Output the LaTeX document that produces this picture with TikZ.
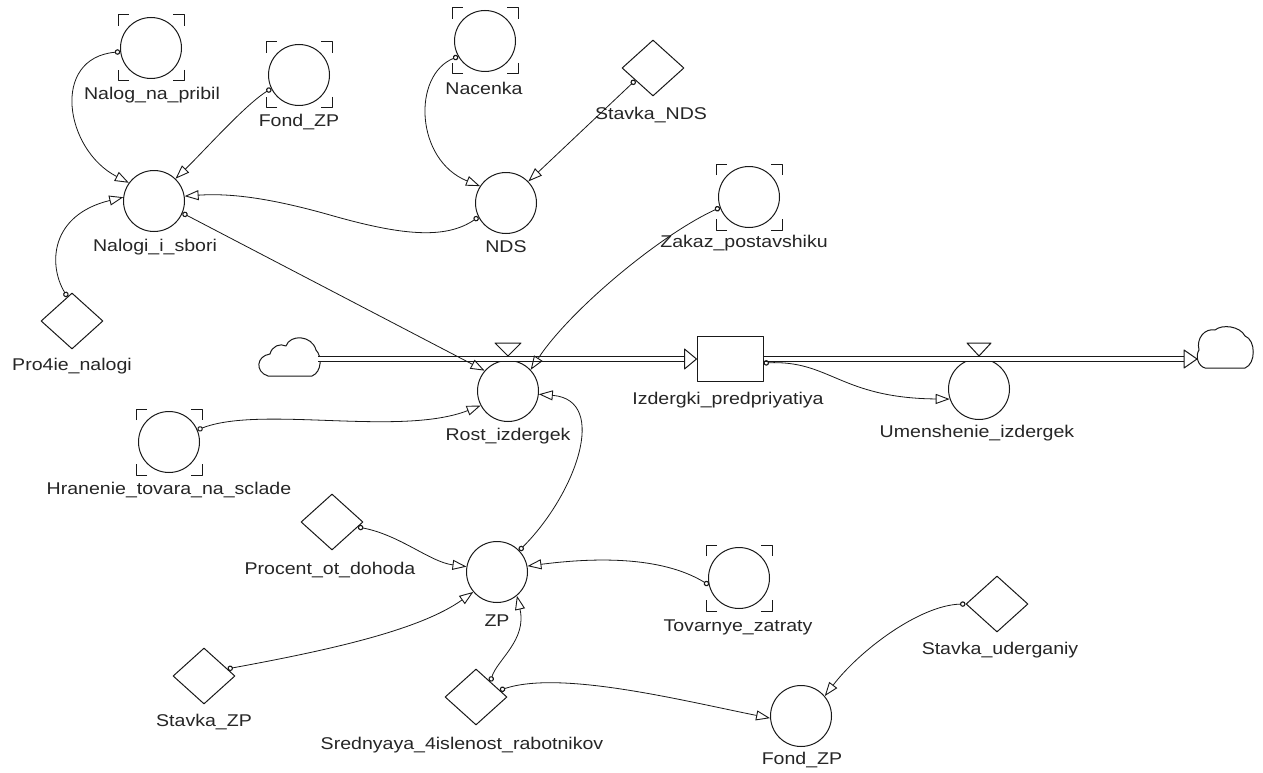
\documentclass[tikz,border=0pt]{standalone}
\usepackage{fontspec}
\setmainfont{Liberation Sans}[FakeStretch=1.15]
\usetikzlibrary{arrows.meta,shapes.geometric,calc}
\tikzset{
  aux/.style={circle,draw=black!90,line width=1pt,minimum size=61pt,inner sep=0pt},
  cnst/.style={diamond,draw=black!90,line width=1pt,minimum width=62pt,minimum height=56pt,inner sep=0pt},
  stockbox/.style={rectangle,draw=black!90,line width=1pt,minimum width=66pt,minimum height=45pt,inner sep=0pt},
  lbl/.style={font=\fontsize{17}{19}\selectfont,text=black!85,inner sep=0pt},
  conn/.style={draw=black!90,line width=0.8pt,{Circle[open,length=5.5pt,width=5.5pt,line width=1.1pt]}-{Triangle[open,length=14pt,width=10pt,line width=0.9pt]}},
  pipe/.style={draw=black!90,double,double distance=3.5pt,line width=0.9pt},
  tri/.style={draw=black!90,line width=1pt,fill=white},
  brk/.pic={\draw[line width=1pt,black!90] (-33,-22)--(-33,-33)--(-22,-33) (22,-33)--(33,-33)--(33,-22) (33,22)--(33,33)--(22,33) (-22,33)--(-33,33)--(-33,22);}
}
\begin{document}
\begin{tikzpicture}[x=1pt,y=-1pt,line join=round]
\useasboundingbox (0,0) rectangle (1263,773);
\fill[white] (0,0) rectangle (1263,773);

% nodes
\node[aux] (nnp) at (151,48) {};
\pic at (151,48) {brk};
\node[lbl] (nnpl) at (152,95) {Nalog\_na\_pribil};
\node[aux] (fzp1) at (299,75) {};
\pic at (299,75) {brk};
\node[lbl] (fzp1l) at (299,122) {Fond\_ZP};
\node[aux] (nis) at (154,201) {};
\node[lbl] (nisl) at (155,247) {Nalogi\_i\_sbori};
\node[aux] (nac) at (485,41) {};
\pic at (485,41) {brk};
\node[lbl] (nacl) at (484,88) {Nacenka};
\node[cnst] (snds) at (653,68) {};
\node[lbl] (sndsl) at (651,115) {Stavka\_NDS};
\node[aux] (nds) at (506,203) {};
\node[lbl] (ndsl) at (506,247) {NDS};
\node[aux] (zak) at (749,197) {};
\pic at (749,197) {brk};
\node[lbl] (zakl) at (744,243) {Zakaz\_postavshiku};
\node[cnst] (pro) at (72,321) {};
\node[lbl] (prol) at (72,366) {Pro4ie\_nalogi};
\node[stockbox] (stock) at (730,359) {};
\node[lbl] (stockl) at (728,400) {Izdergki\_predpriyatiya};
\node[aux] (rost) at (508,391) {};
\node[lbl] (rostl) at (508,436) {Rost\_izdergek};
\node[aux] (umen) at (979,389) {};
\node[lbl] (umenl) at (977,433) {Umenshenie\_izdergek};
\node[aux] (hran) at (169,442) {};
\pic at (169,442) {brk};
\node[lbl] (hranl) at (169,490) {Hranenie\_tovara\_na\_sclade};
\node[cnst] (proc) at (332,522) {};
\node[lbl] (procl) at (330,570) {Procent\_ot\_dohoda};
\node[aux] (zp) at (497,572) {};
\node[lbl] (zpl) at (497,621) {ZP};
\node[cnst] (szp) at (204,676) {};
\node[lbl] (szpl) at (204,722) {Stavka\_ZP};
\node[cnst] (sred) at (476,697) {};
\node[lbl] (sredl) at (462,745) {Srednyaya\_4islenost\_rabotnikov};
\node[aux] (tov) at (739,578) {};
\pic at (739,578) {brk};
\node[lbl] (tovl) at (738,627) {Tovarnye\_zatraty};
\node[cnst] (sud) at (997,604) {};
\node[lbl] (sudl) at (1000,650) {Stavka\_uderganiy};
\node[aux] (fzp2) at (801,716) {};
\node[lbl] (fzp2l) at (802,760) {Fond\_ZP};

% clouds
\coordinate (cl) at (318,359);
\coordinate (cr) at (1197,359);
\draw[line width=1pt,black!90] (268,376) .. controls (255,372) and (256,356) .. (270,354) .. controls (272,346) and (280,343) .. (286,346) .. controls (290,334) and (312,335) .. (316,350) .. controls (322,356) and (322,372) .. (312,376) -- cycle;
\draw[line width=1pt,black!90] (1205,368) -- (1245,368) .. controls (1256,364) and (1256,340) .. (1245,336) .. controls (1240,326) and (1222,324) .. (1215,330) .. controls (1205,328) and (1196,338) .. (1199,350) .. controls (1195,356) and (1198,366) .. (1205,368);

% pipes
\draw[pipe] (cl) -- ([xshift=-12pt]stock.west);
\draw[tri] ([xshift=-12pt,yshift=10pt]stock.west) -- (stock.west) -- ([xshift=-12pt,yshift=-10pt]stock.west) -- cycle;
\draw[pipe] (stock.east) -- ([xshift=-13pt]cr);
\draw[tri] ([xshift=-13pt,yshift=9pt]cr) -- (cr) -- ([xshift=-13pt,yshift=-9pt]cr) -- cycle;

% valves
\coordinate (vr) at (rost.north |- cl);
\coordinate (vu) at (umen.north |- cl);
\draw[tri] ([xshift=-13pt,yshift=16pt]vr) -- ([xshift=13pt,yshift=16pt]vr) -- ([yshift=3pt]vr) -- cycle;
\draw[tri] ([xshift=-12pt,yshift=16pt]vu) -- ([xshift=12pt,yshift=16pt]vu) -- ([yshift=3pt]vu) -- cycle;

% connectors
\draw[conn] (nnp.187) .. controls (50,58) and (65,150) .. (nis.144);
\draw[conn] (fzp1.206) .. controls (245,105) and (205,150) .. (nis.46);
\draw[conn] (nds.207) .. controls (445,240) and (400,235) .. (330,215) .. controls (270,198) and (230,193) .. (nis.9);
\draw[conn] (nis.337) -- (rost.139);
\draw[conn] (pro.101) .. controls (48,265) and (50,215) .. (nis.173);
\draw[conn] (nac.210) .. controls (412,75) and (415,160) .. (nds.147);
\draw[conn] (snds.215) -- (nds.44);
\draw[conn] (zak.200) .. controls (660,235) and (570,310) .. (rost.43);
\draw[conn] (hran.23) .. controls (260,405) and (400,437) .. (rost.208);
\draw[conn] (zp.44) .. controls (575,495) and (610,400) .. (rost.354);
\draw[conn] ([yshift=-4pt]stock.east) .. controls (830,360) and (840,398) .. (umen.199);
\draw[conn] (proc.-11) .. controls (400,535) and (430,562) .. (zp.170);
\draw[conn] (tov.193) .. controls (660,555) and (590,558) .. (zp.11);
\draw[conn] (szp.17) .. controls (330,650) and (420,630) .. (zp.220);
\draw[conn] (sred.47) .. controls (497,660) and (527,640) .. (zp.310);
\draw[conn] (sred.16) .. controls (560,670) and (680,700) .. (fzp2.184);
\draw[conn] (sud.180) .. controls (920,605) and (860,650) .. (fzp2.40);
\end{tikzpicture}
\end{document}
